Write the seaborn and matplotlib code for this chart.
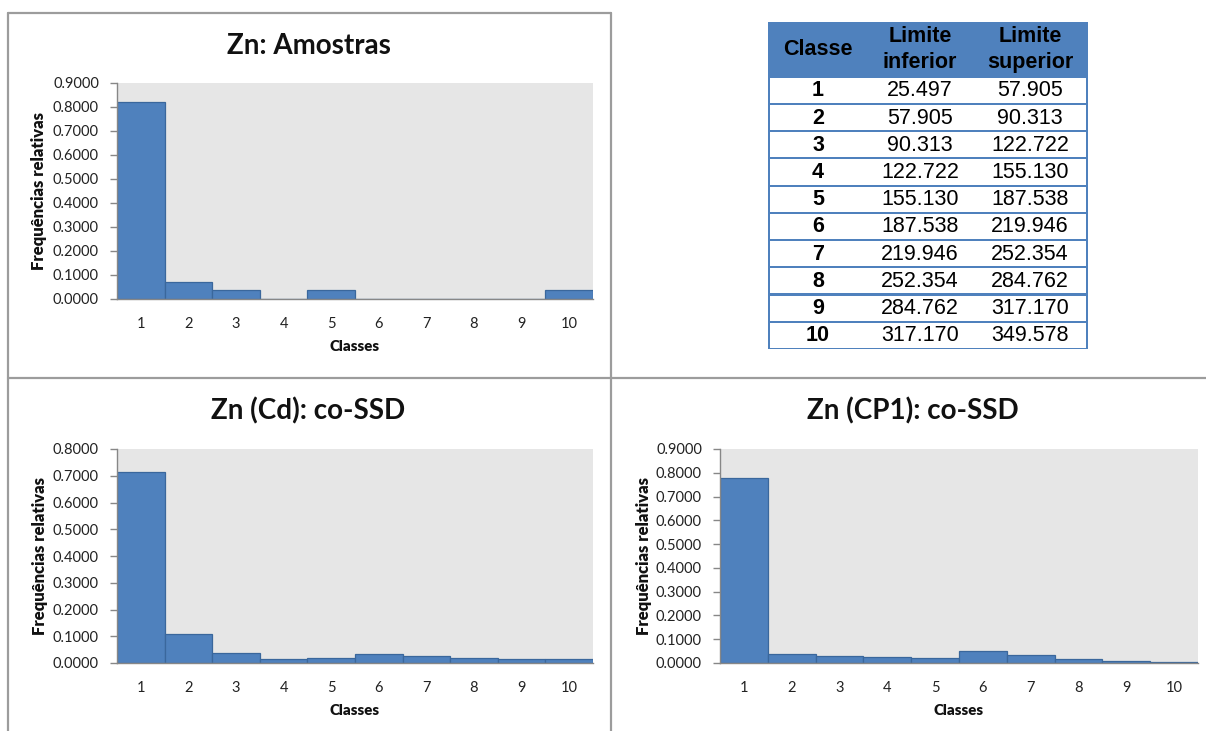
import numpy as np
import pandas as pd
import seaborn as sns
import matplotlib
matplotlib.use("Agg")
import matplotlib.pyplot as plt
from matplotlib.patches import Rectangle
from matplotlib.lines import Line2D
from matplotlib.ticker import FormatStrFormatter

# ---- data ----
classes = ["1", "2", "3", "4", "5", "6", "7", "8", "9", "10"]
freq_amostras = [0.8214, 0.0714, 0.0357, 0.0, 0.0357, 0.0, 0.0, 0.0, 0.0, 0.0357]
freq_cd = [0.713, 0.109, 0.037, 0.015, 0.018, 0.033, 0.025, 0.018, 0.016, 0.016]
freq_cp1 = [0.780, 0.037, 0.028, 0.024, 0.019, 0.050, 0.034, 0.017, 0.007, 0.003]

lim_inferior = [25.497, 57.905, 90.313, 122.722, 155.130, 187.538, 219.946, 252.354, 284.762, 317.170]
lim_superior = [57.905, 90.313, 122.722, 155.130, 187.538, 219.946, 252.354, 284.762, 317.170, 349.578]

titles = ["Zn: Amostras", "Zn (Cd): co-SSD", "Zn (CP1): co-SSD"]
ylabel = "Frequências relativas"
xlabel = "Classes"
table_header = ["Classe", "Limite\ninferior", "Limite\nsuperior"]

# ---- style ----
sns.set_theme(style="white")
plt.rcParams["font.family"] = ["Lato", "DejaVu Sans"]

BAR = "#4F81BD"
BAR_EDGE = "#3A679C"
PLOT_BG = "#E6E6E6"
AXIS = "#878787"
FRAME = "#9C9C9C"

W, H = 1206, 731
fig = plt.figure(figsize=(W / 100, H / 100), dpi=100)
fig.patch.set_facecolor("white")


def fx(px):
    return px / W


def fy(py):
    return 1 - py / H


def rect(left, top, right, bottom):
    return [fx(left), fy(bottom), fx(right) - fx(left), fy(top) - fy(bottom)]


panels = [
    # values, ymax, axes box (px), title centre (px), ylabel x (axes coords), xlabel y (axes coords)
    (freq_amostras, 0.9, (117, 83, 593, 299), (309, 46), -0.164, -0.221),
    (freq_cd, 0.8, (117, 449, 593, 663), (308, 411), -0.162, -0.220),
    (freq_cp1, 0.9, (720, 449, 1198, 663), (913, 411), -0.159, -0.224),
]

for (vals, ymax, box, tpos, ylx, xly), title in zip(panels, titles):
    ax = fig.add_axes(rect(*box))
    df = pd.DataFrame({"Classe": classes, "Freq": vals})
    sns.barplot(data=df, x="Classe", y="Freq", ax=ax, color=BAR, saturation=1,
                width=1.0, edgecolor=BAR_EDGE, linewidth=0.9)
    ax.set_xlim(-0.5, len(classes) - 0.5)
    ax.set_ylim(0, ymax)
    ax.set_yticks(np.round(np.arange(0, ymax + 1e-9, 0.1), 1))
    ax.yaxis.set_major_formatter(FormatStrFormatter("%.4f"))
    ax.set_facecolor(PLOT_BG)
    for s in ("top", "right"):
        ax.spines[s].set_visible(False)
    for s in ("left", "bottom"):
        ax.spines[s].set_color(AXIS)
        ax.spines[s].set_linewidth(1.0)
    ax.tick_params(axis="y", direction="out", length=5, width=1, color=AXIS,
                   labelsize=10.5, pad=8, left=True, labelcolor="#222222")
    ax.tick_params(axis="x", length=0, labelsize=10.5, pad=13, labelcolor="#222222")
    ax.set_xlabel(xlabel, fontsize=10.8, fontweight="heavy", color="#111111")
    ax.set_ylabel(ylabel, fontsize=12, fontweight="heavy", color="#111111")
    ax.xaxis.set_label_coords(0.5, xly)
    ax.xaxis.label.set_va("center")
    ax.yaxis.set_label_coords(ylx, 0.5)
    ax.yaxis.label.set_va("center")
    fig.text(fx(tpos[0]), fy(tpos[1]), title, ha="center", va="center",
             fontsize=20, fontweight="bold", color="#111111")

# ---- panel frames ----
frame_lines = [
    ((8, 611), (13, 13)),
    ((8, 8), (13, 731)),
    ((611, 611), (13, 731)),
    ((8, 1206), (378, 378)),
]
for xs, ys in frame_lines:
    fig.add_artist(Line2D([fx(x) for x in xs], [fy(y) for y in ys],
                          color=FRAME, lw=1.6, transform=fig.transFigure))

# ---- class-limits table ----
tx0, ty0, tx1, ty1 = 768, 22, 1088, 349
tab = fig.add_axes(rect(tx0, ty0, tx1, ty1))
tw, th = tx1 - tx0, ty1 - ty0
tab.set_xlim(0, tw)
tab.set_ylim(th, 0)
tab.axis("off")

header_h = 54.7
n_rows = len(classes)
row_h = (th - header_h) / n_rows
border = 2.2
col_x = [50, 152, 262]
tfont = ["Liberation Sans", "DejaVu Sans"]
tsize = 15.5

tab.add_patch(Rectangle((0, 0), tw, th, facecolor=BAR, edgecolor="none"))
for i in range(n_rows):
    top = header_h + i * row_h
    tab.add_patch(Rectangle((border, top + border / 2), tw - 2 * border,
                            row_h - border, facecolor="white", edgecolor="none"))
    yc = top + row_h / 2 + 0.5
    tab.text(col_x[0], yc, classes[i], ha="center", va="center", fontsize=tsize,
             fontweight="bold", family=tfont, color="black")
    tab.text(col_x[1], yc, f"{lim_inferior[i]:.3f}", ha="center", va="center",
             fontsize=tsize, family=tfont, color="black")
    tab.text(col_x[2], yc, f"{lim_superior[i]:.3f}", ha="center", va="center",
             fontsize=tsize, family=tfont, color="black")

for cx, label in zip(col_x, table_header):
    tab.text(cx, header_h / 2 + 0.5, label, ha="center", va="center", fontsize=tsize,
             fontweight="bold", family=tfont, color="black", linespacing=1.3)

fig.savefig("out.png", dpi=100, facecolor="white")
